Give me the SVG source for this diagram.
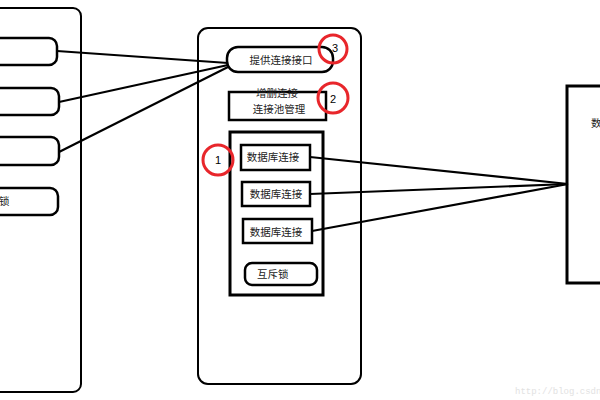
<svg xmlns="http://www.w3.org/2000/svg" width="600" height="400" viewBox="0 0 600 400">
<style>
.box{fill:#fff;stroke:#000;stroke-width:2.5}
.thin{fill:none;stroke:#000;stroke-width:2}
.ln{stroke:#000;stroke-width:2.2;fill:none}
.t{font-family:"Noto Sans CJK SC","Noto Sans",sans-serif;font-size:10.5px;fill:#222}
.rc{fill:none;stroke:#e8262b;stroke-width:3}
.n{font-family:"Liberation Sans",Arial,sans-serif;font-size:11px;fill:#000;text-anchor:middle}
</style>
<rect width="600" height="400" fill="#fff"/>
<g id="left-container"><rect class="thin" x="-20" y="8" width="101" height="384" rx="8"/></g>
<g id="left-box1"><rect class="box" x="-20" y="38" width="77" height="27" rx="8"/></g>
<g id="left-box2"><rect class="box" x="-20" y="88" width="79" height="27" rx="8"/></g>
<g id="left-box3"><rect class="box" x="-20" y="137" width="79" height="28" rx="8"/></g>
<g id="left-mutex"><rect class="box" x="-20" y="188" width="78" height="27" rx="8"/><text class="t" x="-1" y="205">锁</text></g>
<g id="middle-container"><rect class="thin" x="198" y="28" width="163" height="356" rx="10"/></g>
<g id="provide"><rect class="box" x="227" y="47" width="106" height="25" rx="11"/><text class="t" x="281" y="64" text-anchor="middle">提供连接接口</text></g>
<g id="pool"><rect class="box" x="229" y="92" width="97" height="28"/><text class="t" x="277" y="97" text-anchor="middle">增删连接</text><text class="t" x="279" y="113" text-anchor="middle">连接池管理</text></g>
<g id="inner"><rect class="box" x="230" y="132" width="93" height="163" style="stroke-width:3;fill:none"/></g>
<g id="conn1"><rect class="box" x="241" y="145" width="69" height="25"/><text class="t" x="273" y="161" text-anchor="middle">数据库连接</text></g>
<g id="conn2"><rect class="box" x="242" y="182" width="68" height="24"/><text class="t" x="276" y="198" text-anchor="middle">数据库连接</text></g>
<g id="conn3"><rect class="box" x="243" y="219" width="69" height="24"/><text class="t" x="276" y="236" text-anchor="middle">数据库连接</text></g>
<g id="mutex"><rect class="box" x="245" y="263" width="72" height="22" rx="7"/><text class="t" x="257" y="278">互斥锁</text></g>
<g id="database"><rect class="box" x="567" y="86" width="50" height="197" style="stroke-width:3"/><text class="t" x="591" y="127">数</text></g>
<g id="connectors">
<line class="ln" x1="57" y1="51" x2="228" y2="63"/>
<line class="ln" x1="59" y1="102" x2="228" y2="65"/>
<line class="ln" x1="59" y1="152" x2="228" y2="67"/>
<line class="ln" x1="310" y1="157" x2="568" y2="184"/>
<line class="ln" x1="310" y1="194" x2="568" y2="184"/>
<line class="ln" x1="312" y1="231" x2="568" y2="184"/>
</g>
<g id="marker3"><circle class="rc" cx="333" cy="49" r="14"/><text class="n" x="335" y="52">3</text></g>
<g id="marker2"><circle class="rc" cx="333" cy="98" r="15"/><text class="n" x="333" y="103">2</text></g>
<g id="marker1"><circle class="rc" cx="218" cy="160" r="15"/><text class="n" x="218" y="164">1</text></g>
<text x="515" y="394" font-family="Liberation Mono,monospace" font-size="9" fill="#e2e2e2">http://blog.csdn</text>
</svg>
